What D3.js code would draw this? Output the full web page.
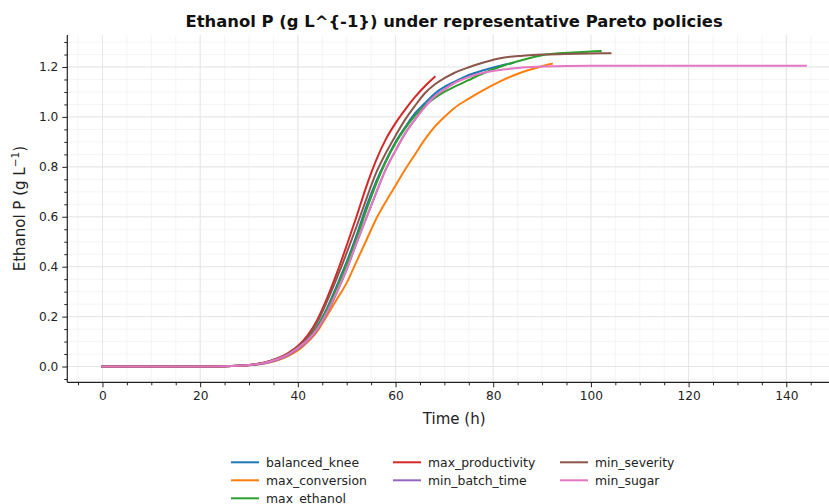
<!DOCTYPE html>
<html><head><meta charset="utf-8">
<script src="https://cdn.jsdelivr.net/npm/d3@7"></script>
<style>
body{margin:0;background:#fff;}
svg{display:block;font-family:"DejaVu Sans",sans-serif;}
</style></head>
<body><svg id="c" width="829" height="504"></svg>
<script>
const seriesNames = ["balanced_knee","max_conversion","max_ethanol","max_productivity","min_batch_time","min_severity","min_sugar"];
const colors = ["#1f77b4","#ff7f0e","#2ca02c","#d62728","#9467bd","#8c564b","#e377c2"];

const tBalanced = [0,10,20,25,30,33,36,38,40,42,44,46,48,50,52,54,56,58,60,62,64,66,68,70,72,75,78,81,84];
const pBalanced = [0,0,0,0.001,0.006,0.014,0.031,0.049,0.075,0.11,0.162,0.235,0.325,0.42,0.525,0.64,0.74,0.825,0.9,0.96,1.015,1.055,1.093,1.12,1.14,1.168,1.187,1.203,1.216];

const tConversion = [0,10,20,25,30,33,36,38,40,42,44,46,48,50,52,54,56,58,60,62,64,66,68,70,72,75,78,81,84,88,92];
const pConversion = [0,0,0,0.001,0.005,0.012,0.026,0.042,0.064,0.098,0.142,0.205,0.27,0.335,0.42,0.505,0.59,0.66,0.725,0.79,0.85,0.91,0.96,1.0,1.035,1.073,1.107,1.138,1.165,1.192,1.213];

const tEthanol = [0,10,20,25,30,33,36,38,40,42,44,46,48,50,52,54,56,58,60,62,64,66,68,70,72,75,78,82,86,90,95,100,102];
const pEthanol = [0,0,0,0.001,0.006,0.014,0.031,0.049,0.074,0.108,0.158,0.228,0.315,0.41,0.512,0.625,0.73,0.82,0.895,0.955,1.005,1.045,1.075,1.1,1.12,1.148,1.175,1.205,1.228,1.247,1.257,1.262,1.264];

const tProductivity = [0,10,20,25,30,33,36,38,40,42,44,46,48,50,52,54,56,58,60,62,64,66,68];
const pProductivity = [0,0,0,0.001,0.006,0.015,0.034,0.054,0.082,0.125,0.188,0.275,0.375,0.485,0.6,0.72,0.825,0.91,0.975,1.03,1.08,1.123,1.16];

const tBatch = [0,10,20,25,30,33,36,38,40,42,44,46,48,50,52,54,56,58,60,62,64,66,68,70,72];
const pBatch = [0,0,0,0.001,0.005,0.012,0.028,0.045,0.07,0.102,0.148,0.214,0.297,0.388,0.493,0.594,0.694,0.79,0.865,0.935,0.99,1.04,1.082,1.11,1.135];

const tSeverity = [0,10,20,25,30,33,36,38,40,42,44,46,48,50,52,54,56,58,60,62,64,66,68,70,72,75,78,82,86,90,95,100,104];
const pSeverity = [0,0,0,0.001,0.006,0.015,0.033,0.052,0.079,0.117,0.178,0.262,0.355,0.455,0.56,0.67,0.775,0.855,0.925,0.99,1.045,1.095,1.13,1.155,1.176,1.199,1.218,1.237,1.245,1.25,1.252,1.254,1.255];

const tSugar = [0,10,20,25,30,33,36,38,40,42,44,46,48,50,52,54,56,58,60,62,64,66,68,70,72,75,78,82,86,90,100,110,120,130,144];
const pSugar = [0,0,0,0.001,0.006,0.014,0.031,0.049,0.074,0.106,0.152,0.218,0.3,0.39,0.495,0.595,0.695,0.79,0.865,0.935,0.99,1.04,1.082,1.11,1.135,1.16,1.177,1.19,1.198,1.202,1.205,1.205,1.205,1.205,1.205];

const xTicks = [0,20,40,60,80,100,120,140];
const yTicks = [0.0,0.2,0.4,0.6,0.8,1.0,1.2];

const titleText = "Ethanol P (g L^{-1}) under representative Pareto policies";
const xLabel = "Time (h)";

const series = [
  [tBalanced,pBalanced],[tConversion,pConversion],[tEthanol,pEthanol],
  [tProductivity,pProductivity],[tBatch,pBatch],[tSeverity,pSeverity],[tSugar,pSugar]
].map((d,i)=>({name:seriesNames[i],color:colors[i],pts:d[0].map((t,j)=>[t,d[1][j]])}));

const svg = d3.select("#c");
const L=67.3, R=841, T=35, B=382.3;
const x = d3.scaleLinear().domain([-7.2,151.2]).range([L,R]);
const y = d3.scaleLinear().domain([-0.0632,1.3282]).range([B,T]);

// grid
const xMinor = d3.range(-5,151,5);
const yMinor = d3.range(-0.05,1.33,0.05);
const g = svg.append("g");
g.selectAll(".xm").data(xMinor).join("line")
  .attr("x1",d=>x(d)).attr("x2",d=>x(d)).attr("y1",T).attr("y2",B)
  .attr("stroke","#f1f1f1").attr("stroke-width",0.8);
g.selectAll(".ym").data(yMinor).join("line")
  .attr("x1",L).attr("x2",R).attr("y1",d=>y(d)).attr("y2",d=>y(d))
  .attr("stroke","#f1f1f1").attr("stroke-width",0.8);
g.selectAll(".xM").data(xTicks).join("line")
  .attr("x1",d=>x(d)).attr("x2",d=>x(d)).attr("y1",T).attr("y2",B)
  .attr("stroke","#e4e4e4").attr("stroke-width",0.9);
g.selectAll(".yM").data(yTicks).join("line")
  .attr("x1",L).attr("x2",R).attr("y1",d=>y(d)).attr("y2",d=>y(d))
  .attr("stroke","#e4e4e4").attr("stroke-width",0.9);

// lines
const line = d3.line().x(d=>x(d[0])).y(d=>y(d[1])).curve(d3.curveMonotoneX);
svg.append("g").selectAll("path").data(series).join("path")
  .attr("d",d=>line(d.pts)).attr("fill","none")
  .attr("stroke",d=>d.color).attr("stroke-width",2).attr("stroke-linecap","square");

// axes
const xAxis = svg.append("g").attr("transform",`translate(0,${B})`)
  .call(d3.axisBottom(x).tickValues(xTicks).tickFormat(d3.format("d")).tickSize(5).tickPadding(4));
svg.append("g").attr("transform",`translate(0,${B})`)
  .call(d3.axisBottom(x).tickValues(xMinor.filter(v=>v%20!==0)).tickFormat("").tickSize(3))
  .call(s=>s.select(".domain").remove());
const yAxis = svg.append("g").attr("transform",`translate(${L},0)`)
  .call(d3.axisLeft(y).tickValues(yTicks).tickFormat(d3.format(".1f")).tickSize(5).tickPadding(4));
svg.append("g").attr("transform",`translate(${L},0)`)
  .call(d3.axisLeft(y).tickValues(yMinor.filter(v=>Math.abs(v*5-Math.round(v*5))>1e-6)).tickFormat("").tickSize(3))
  .call(s=>s.select(".domain").remove());
svg.selectAll(".domain").attr("stroke","#222").attr("stroke-width",1.2);
svg.selectAll(".tick line").attr("stroke","#222").attr("stroke-width",1);
svg.selectAll(".tick text").attr("font-family","DejaVu Sans").attr("font-size",12.2).attr("fill","#222");
xAxis.select(".domain").attr("d",`M${L},0H${R}`);
yAxis.select(".domain").attr("d",`M0,${T}V${B}`);

// title
svg.append("text").attr("x",(L+R)/2).attr("y",27).attr("text-anchor","middle")
  .attr("font-weight","bold").attr("font-size",16.4).attr("fill","#111").text(titleText);
// x label
svg.append("text").attr("x",(L+R)/2).attr("y",423.5).attr("text-anchor","middle")
  .attr("font-size",15).attr("fill","#222").text(xLabel);
// y label
const yl = svg.append("text").attr("transform",`translate(25,${(T+B)/2}) rotate(-90)`)
  .attr("text-anchor","middle").attr("font-size",15).attr("fill","#222");
yl.append("tspan").text("Ethanol P (g L");
yl.append("tspan").attr("font-size",10.5).attr("dy",-6).text("\u22121");
yl.append("tspan").attr("dy",6).text(")");

// legend
const colX = [231,393,560];
const rowY = [462.3,480.3,498.3];
const leg = svg.append("g");
series.forEach((s,i)=>{
  const col = i<3?0:(i<5?1:2);
  const row = i<3?i:(i<5?i-3:i-5);
  const gx = colX[col], gy = rowY[row];
  leg.append("line").attr("x1",gx).attr("x2",gx+28).attr("y1",gy).attr("y2",gy)
    .attr("stroke",s.color).attr("stroke-width",2);
  leg.append("text").attr("x",gx+35).attr("y",gy+4.3).attr("font-size",12.4).attr("fill","#222").text(s.name);
});
</script></body></html>
